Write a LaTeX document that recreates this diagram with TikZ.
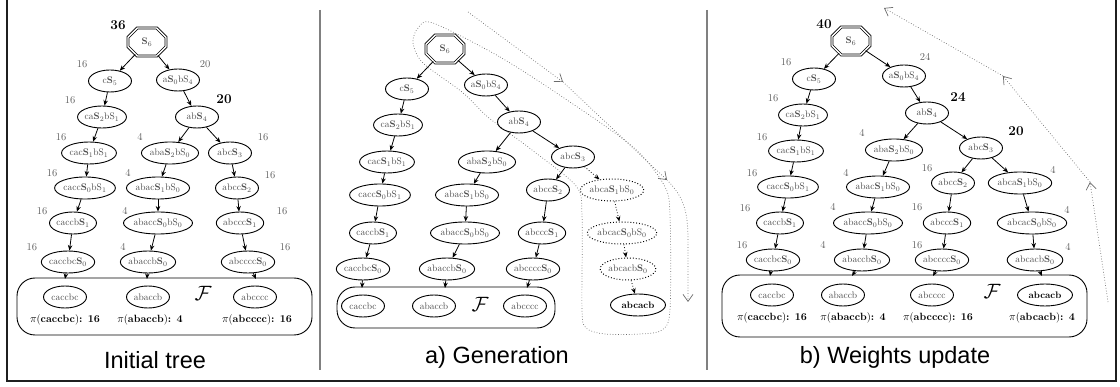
\documentclass[tikz,border=0pt]{standalone}
\usepackage{fontspec}
\newfontfamily\titlefont{Liberation Sans}
\usetikzlibrary{shapes.misc,shapes.geometric,arrows.meta}
\definecolor{ntext}{gray}{0.30}
\definecolor{wgray}{gray}{0.38}
\definecolor{divgray}{gray}{0.50}
\definecolor{pathgray}{gray}{0.42}
\newcommand\SB{\textbf{S}}
\tikzset{
  nd/.style={ellipse, draw, line width=0.9pt, minimum width=43pt, minimum height=22pt,
    inner xsep=0pt, inner ysep=2pt, text=ntext, font=\fontsize{9.5}{10}\selectfont},
  ndd/.style={nd, dotted, line width=1pt},
  leafb/.style={nd, text=black, minimum width=55pt, font=\fontsize{9.5}{10}\selectfont\bfseries},
  root/.style={chamfered rectangle, chamfered rectangle xsep=8.5pt, chamfered rectangle ysep=8.5pt,
    draw, double, double distance=1.4pt, line width=0.75pt, minimum width=38pt, minimum height=28pt,
    inner sep=0pt, text=ntext, font=\fontsize{9.5}{10}\selectfont},
  wt/.style={text=wgray, inner sep=0pt, font=\fontsize{10.5}{11}\selectfont},
  wb/.style={inner sep=0pt, font=\fontsize{13.5}{14}\selectfont\bfseries},
  arr/.style={-{Stealth[length=5.5pt,width=4.5pt]}, line width=0.8pt},
  arrd/.style={arr, dotted},
  blob/.style={draw, line width=0.9pt, rounded corners=18pt},
  pil/.style={inner sep=0pt, font=\fontsize{10.5}{11}\selectfont},
  ttl/.style={inner sep=0pt, font=\titlefont\fontsize{23.5}{25}\selectfont},
  fl/.style={inner sep=0pt, font=\fontsize{20}{20}\selectfont},
  gd/.style={draw=pathgray, dotted, line width=0.7pt},
  barb/.style={-{Straight Barb[length=7pt,width=10pt,line width=0.7pt]}}
}
\begin{document}
\begin{tikzpicture}[x=1pt,y=-1pt]
\useasboundingbox (0,0) rectangle (1120,387);
% frame and dividers
\draw[line width=2.4pt, black!88] (7,-2) -- (7,381) -- (1116,381) -- (1116,-2);
\draw[divgray, line width=1.8pt] (320,10) -- (320,370);
\draw[divgray, line width=1.8pt] (707,10) -- (707,370);

% ================= Initial tree =================
\node[root] (L0) at (147,42) {\SB$_6$};
\node[nd] (L1) at (110,81) {c\SB$_5$};
\node[nd] (L2) at (178,80) {a\SB$_0$bS$_4$};
\node[nd] (L3) at (102,117) {ca\SB$_2$bS$_1$};
\node[nd] (L4) at (197,117) {ab\SB$_4$};
\node[nd] (L5) at (89,153) {cac\SB$_1$bS$_1$};
\node[nd] (L6) at (170,153) {aba\SB$_2$bS$_0$};
\node[nd] (L7) at (230,153) {abc\SB$_3$};
\node[nd] (L8) at (85,188) {cacc\SB$_0$bS$_1$};
\node[nd] (L9) at (158,188) {abac\SB$_1$bS$_0$};
\node[nd] (L10) at (237,188) {abcc\SB$_2$};
\node[nd] (L11) at (73,223) {caccb\SB$_1$};
\node[nd] (L12) at (158,223) {abacc\SB$_0$bS$_0$};
\node[nd] (L13) at (240,223) {abccc\SB$_1$};
\node[nd] (L14) at (68,262) {caccbc\SB$_0$};
\node[nd] (L15) at (148,262) {abaccb\SB$_0$};
\node[nd] (L16) at (248,262) {abcccc\SB$_0$};
\draw[blob] (17,278) rectangle (312,335);
\node[nd] (La) at (65,297) {caccbc};
\node[nd] (Lb) at (148,297) {abaccb};
\node[nd] (Lc) at (255,297) {abcccc};
\node[fl] (LF) at (203,293) {$\mathcal{F}$};
\coordinate (Lia) at (65,279);
\coordinate (Lib) at (147,279);
\coordinate (Lic) at (256,279);
\node[pil] (Lpa) at (65,320) {$\pi$(\textbf{caccbc})\textbf{: 16}};
\node[pil] (Lpb) at (150,320) {$\pi$(\textbf{abaccb})\textbf{: 4}};
\node[pil] (Lpc) at (257,320) {$\pi$(\textbf{abcccc})\textbf{: 16}};
\node[ttl] (Lt) at (155,360) {Initial tree};
\node[wb] (Lw0) at (118,25) {36};
\node[wt] (Lw1) at (82,64) {16};
\node[wt] (Lw2) at (205,64) {20};
\node[wt] (Lw3) at (70,100) {16};
\node[wb] (Lw4) at (224,99) {20};
\node[wt] (Lw5) at (61,137) {16};
\node[wt] (Lw6) at (140,137) {4};
\node[wt] (Lw7) at (263,137) {16};
\node[wt] (Lw8) at (52,173) {16};
\node[wt] (Lw9) at (128,173) {4};
\node[wt] (Lw10) at (270,175) {16};
\node[wt] (Lw11) at (42,211) {16};
\node[wt] (Lw12) at (125,211) {4};
\node[wt] (Lw13) at (282,211) {16};
\node[wt] (Lw14) at (32,247) {16};
\node[wt] (Lw15) at (123,247) {4};
\node[wt] (Lw16) at (285,247) {16};
\foreach \a/\b in {L0/L1,L0/L2,L1/L3,L2/L4,L3/L5,L4/L6,L4/L7,L5/L8,L6/L9,L7/L10,
  L8/L11,L9/L12,L10/L13,L11/L14,L12/L15,L13/L16,L14/Lia,L15/Lib,L16/Lic}
  \draw[arr] (\a) -- (\b);

% ================= a) Generation =================
\draw[gd] plot[smooth cycle, tension=0.5] coordinates {(433,23) (500,57) (567,100) (633,147)
  (664,185) (670,215) (670,310) (662,330) (640,334) (605,334) (586,328) (582,310) (582,215)
  (576,186) (532,150) (489,118) (462,92) (423,63) (413,43) (418,28)};
\node[root] (M0) at (445,49) {\SB$_6$};
\node[nd] (M1) at (407,89) {c\SB$_5$};
\node[nd] (M2) at (486,85) {a\SB$_0$bS$_4$};
\node[nd] (M3) at (398,125) {ca\SB$_2$bS$_1$};
\node[nd] (M4) at (519,122) {ab\SB$_4$};
\node[nd] (M5) at (387,162) {cac\SB$_1$bS$_1$};
\node[nd] (M6) at (487,162) {aba\SB$_2$bS$_0$};
\node[nd] (M7) at (573,157) {abc\SB$_3$};
\node[nd] (M8) at (380,195) {cacc\SB$_0$bS$_1$};
\node[nd] (M9) at (467,195) {abac\SB$_1$bS$_0$};
\node[nd] (M10) at (548,190) {abcc\SB$_2$};
\node[ndd] (M11) at (612,190) {abca\SB$_1$bS$_0$};
\node[nd] (M12) at (373,233) {caccb\SB$_1$};
\node[nd] (M13) at (465,233) {abacc\SB$_0$bS$_0$};
\node[nd] (M14) at (542,233) {abccc\SB$_1$};
\node[ndd] (M15) at (622,233) {abcac\SB$_0$bS$_0$};
\node[nd] (M16) at (363,269) {caccbc\SB$_0$};
\node[nd] (M17) at (447,269) {abaccb\SB$_0$};
\node[nd] (M18) at (533,269) {abcccc\SB$_0$};
\node[ndd] (M19) at (628,269) {abcacb\SB$_0$};
\draw[blob] (337,287) rectangle (555,328);
\node[nd] (Ma) at (363,306) {caccbc};
\node[nd] (Mb) at (434,306) {abaccb};
\node[nd] (Mc) at (525,306) {abcccc};
\node[leafb] (Md) at (638,305) {abcacb};
\node[fl] (MF) at (480,304) {$\mathcal{F}$};
\coordinate (Mia) at (362,288);
\coordinate (Mib) at (445,288);
\coordinate (Mic) at (527,288);
\node[ttl] (Mt) at (497,357) {a) Generation};
\foreach \a/\b in {M0/M1,M0/M2,M1/M3,M2/M4,M3/M5,M4/M6,M4/M7,M5/M8,M6/M9,M7/M10,
  M8/M12,M9/M13,M10/M14,M12/M16,M13/M17,M14/M18,M16/Mia,M17/Mib,M18/Mic}
  \draw[arr] (\a) -- (\b);
\foreach \a/\b in {M7/M11,M11/M15,M15/M19,M19/Md}
  \draw[arrd] (\a) -- (\b);
\coordinate (ga1) at (468,12);
\coordinate (ga2) at (563,82);
\coordinate (ga3) at (667,180);
\coordinate (ga4) at (688,302);
\draw[gd, barb] (ga1) -- (ga2);
\draw[gd, barb] (ga2) -- (ga3);
\draw[gd, barb] (ga3) .. controls (684,197) and (688,212) .. (688,240) -- (ga4);

% ================= b) Weights update =================
\node[root] (R0) at (851,41) {\SB$_6$};
\node[nd] (R1) at (814,79) {c\SB$_5$};
\node[nd] (R2) at (904,76) {a\SB$_0$bS$_4$};
\node[nd] (R3) at (803,115) {ca\SB$_2$bS$_1$};
\node[nd] (R4) at (927,113) {ab\SB$_4$};
\node[nd] (R5) at (796,151) {cac\SB$_1$bS$_1$};
\node[nd] (R6) at (894,150) {aba\SB$_2$bS$_0$};
\node[nd] (R7) at (981,148) {abc\SB$_3$};
\node[nd] (R8) at (788,187) {cacc\SB$_0$bS$_1$};
\node[nd] (R9) at (878,187) {abac\SB$_1$bS$_0$};
\node[nd] (R10) at (953,183) {abcc\SB$_2$};
\node[nd] (R11) at (1020,183) {abca\SB$_1$bS$_0$};
\node[nd] (R12) at (780,223) {caccb\SB$_1$};
\node[nd] (R13) at (868,223) {abacc\SB$_0$bS$_0$};
\node[nd] (R14) at (947,223) {abccc\SB$_1$};
\node[nd] (R15) at (1032,223) {abcac\SB$_0$bS$_0$};
\node[nd] (R16) at (773,260) {caccbc\SB$_0$};
\node[nd] (R17) at (862,260) {abaccb\SB$_0$};
\node[nd] (R18) at (942,260) {abcccc\SB$_0$};
\node[nd] (R19) at (1035,260) {abcacb\SB$_0$};
\draw[blob] (722,275) rectangle (1087,337);
\node[nd] (Ra) at (772,295) {caccbc};
\node[nd] (Rb) at (843,295) {abaccb};
\node[nd] (Rc) at (932,295) {abcccc};
\node[leafb] (Rd) at (1045,295) {abcacb};
\node[fl] (RF) at (992,291) {$\mathcal{F}$};
\coordinate (Ria) at (770,276);
\coordinate (Rib) at (852,276);
\coordinate (Ric) at (933,276);
\coordinate (Rid) at (1042,276);
\node[pil] (Rpa) at (772,318) {$\pi$(\textbf{caccbc})\textbf{: 16}};
\node[pil] (Rpb) at (853,318) {$\pi$(\textbf{abaccb})\textbf{: 4}};
\node[pil] (Rpc) at (938,318) {$\pi$(\textbf{abcccc})\textbf{: 16}};
\node[pil] (Rpd) at (1042,318) {$\pi$(\textbf{abcacb})\textbf{: 4}};
\node[ttl] (Rt) at (895,357) {b) Weights update};
\node[wb] (Rw0) at (824,24) {40};
\node[wt] (Rw1) at (786,62) {16};
\node[wt] (Rw2) at (925,57) {24};
\node[wt] (Rw3) at (773,98) {16};
\node[wb] (Rw4) at (958,97) {24};
\node[wt] (Rw5) at (762,137) {16};
\node[wt] (Rw6) at (862,133) {4};
\node[wb] (Rw7) at (1016,131) {20};
\node[wt] (Rw8) at (752,173) {16};
\node[wt] (Rw9) at (846,173) {4};
\node[wt] (Rw10) at (927,168) {16};
\node[wt] (Rw11) at (1053,170) {4};
\node[wt] (Rw12) at (745,208) {16};
\node[wt] (Rw13) at (833,207) {4};
\node[wt] (Rw14) at (917,207) {16};
\node[wt] (Rw15) at (1067,210) {4};
\node[wt] (Rw16) at (742,245) {16};
\node[wt] (Rw17) at (823,245) {4};
\node[wt] (Rw18) at (917,245) {16};
\node[wt] (Rw19) at (1068,247) {4};
\foreach \a/\b in {R0/R1,R0/R2,R1/R3,R2/R4,R3/R5,R4/R6,R4/R7,R5/R8,R6/R9,R7/R10,R7/R11,
  R8/R12,R9/R13,R10/R14,R11/R15,R12/R16,R13/R17,R14/R18,R15/R19,
  R16/Ria,R17/Rib,R18/Ric,R19/Rid}
  \draw[arr] (\a) -- (\b);
\coordinate (rb1) at (1108,302);
\coordinate (rb2) at (1090,182);
\coordinate (rb3) at (1003,76);
\coordinate (rb4) at (884,8);
\draw[gd, barb] (rb1) -- (rb2);
\draw[gd, barb] (rb2) -- (rb3);
\draw[gd, barb] (rb3) -- (rb4);
\end{tikzpicture}
\end{document}
